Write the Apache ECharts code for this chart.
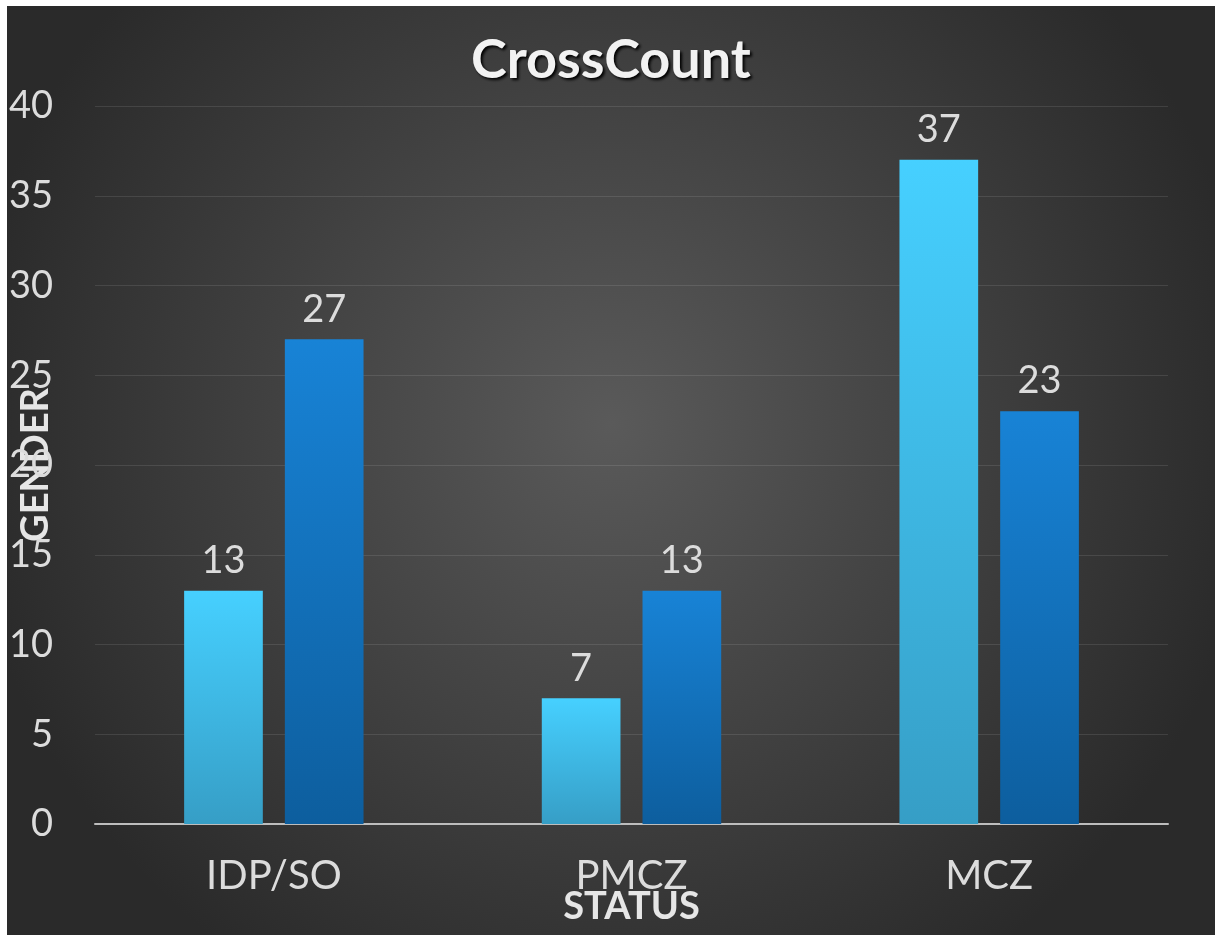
<!DOCTYPE html>
<html>
<head>
<meta charset="utf-8">
<script src="https://cdn.jsdelivr.net/npm/echarts@6/dist/echarts.min.js"></script>
<style>
html, body { margin: 0; padding: 0; background: #fff; }
#chart { position: absolute; left: 7px; top: 6px; width: 1208px; height: 929px; }
</style>
</head>
<body>
<div id="chart"></div>
<script>
// data
const categories = ['IDP/SO', 'PMCZ', 'MCZ'];
const seriesA = [13, 7, 37];
const seriesB = [27, 13, 23];

const fontFamily = 'Lato, "Open Sans", sans-serif';
const chart = echarts.init(document.getElementById('chart'));

const labelStyle = {
    show: true,
    position: 'top',
    distance: 11,
    color: '#dcdcdc',
    fontSize: 38,
    fontFamily: fontFamily
};

chart.setOption({
    backgroundColor: new echarts.graphic.RadialGradient(0.5, 0.45, 0.7, [
        { offset: 0, color: '#5a5a5a' },
        { offset: 1, color: '#2a2a2a' }
    ]),
    title: {
        text: 'CrossCount',
        left: 'center',
        top: 23,
        textStyle: {
            color: '#f2f2f2',
            fontSize: 54,
            fontWeight: 'bold',
            fontFamily: fontFamily,
            textShadowColor: '#000',
            textShadowBlur: 3,
            textShadowOffsetX: 2,
            textShadowOffsetY: 2
        }
    },
    grid: {
        left: 88,
        right: 47,
        top: 100,
        bottom: 111,
        containLabel: false,
        outerBoundsMode: 'none'
    },
    xAxis: {
        type: 'category',
        data: categories,
        name: 'STATUS',
        nameLocation: 'middle',
        nameGap: 64,
        nameMoveOverlap: false,
        nameTextStyle: {
            color: '#e6e6e6',
            fontSize: 38,
            fontWeight: 'bold',
            fontFamily: fontFamily
        },
        axisLine: { lineStyle: { color: '#bdbdbd', width: 2 } },
        axisTick: { show: false },
        axisLabel: {
            color: '#dcdcdc',
            fontSize: 40,
            margin: 32,
            fontFamily: fontFamily
        }
    },
    yAxis: {
        type: 'value',
        min: 0,
        max: 40,
        interval: 5,
        name: 'GENDER',
        nameLocation: 'middle',
        nameRotate: 90,
        nameGap: 40,
        nameMoveOverlap: false,
        nameTextStyle: {
            color: '#e6e6e6',
            fontSize: 38,
            fontWeight: 'bold',
            fontFamily: fontFamily
        },
        axisLine: { show: false },
        axisTick: { show: false },
        splitLine: { lineStyle: { color: 'rgba(255,255,255,0.1)', width: 1 } },
        axisLabel: {
            color: '#dcdcdc',
            fontSize: 38,
            margin: 42,
            fontFamily: fontFamily
        }
    },
    series: [{
        name: 'A',
        type: 'bar',
        data: seriesA,
        barWidth: '22%',
        barGap: '28%',
        itemStyle: {
            color: new echarts.graphic.LinearGradient(0, 0, 0, 1, [
                { offset: 0, color: '#46d0ff' },
                { offset: 1, color: '#369ec6' }
            ])
        },
        label: labelStyle
    }, {
        name: 'B',
        type: 'bar',
        data: seriesB,
        barWidth: '22%',
        itemStyle: {
            color: new echarts.graphic.LinearGradient(0, 0, 0, 1, [
                { offset: 0, color: '#1883d6' },
                { offset: 1, color: '#0d5e9e' }
            ])
        },
        label: labelStyle
    }]
});
</script>
</body>
</html>
